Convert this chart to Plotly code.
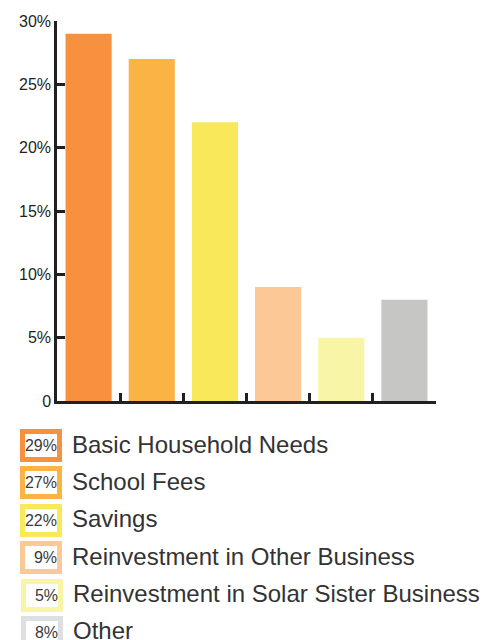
import plotly.graph_objects as go

categories = ["Basic Household Needs", "School Fees", "Savings",
              "Reinvestment in Other Business",
              "Reinvestment in Solar Sister Business", "Other"]
values = [29, 27, 22, 9, 5, 8]
pct_labels = ["29%", "27%", "22%", "9%", "5%", "8%"]
bar_colors = ["#F7913D", "#FBB343", "#F8E85A", "#FCC896", "#F8F5A6", "#C6C6C5"]
legend_colors = ["#F7913D", "#FBB343", "#F8E85A", "#FCC896", "#F8F5A6", "#DEDFE0"]
y_tickvals = [0, 5, 10, 15, 20, 25, 30]
y_ticktext = ["0", "5%", "10%", "15%", "20%", "25%", "30%"]

OFF = 8  # page body margin
W, H = 492 - OFF, 640 - OFF
L, R, T, B = 49, 56, 13, 239
pw, ph = W - L - R, H - T - B

def px_x(px):
    return (px - OFF - L) / pw

def px_y(py):
    return (H - B - (py - OFF)) / ph

fig = go.Figure(go.Bar(
    x=categories, y=values, marker=dict(color=bar_colors, line=dict(width=0)),
    showlegend=False, hoverinfo="x+y"))

annotations = []
row0, step = 445.5, 37.4
for i, (lab, pct, col) in enumerate(zip(categories, pct_labels, legend_colors)):
    cy = row0 + i * step
    annotations.append(dict(
        x=px_x(40.5 + (1 if i >= 4 else 0)), y=px_y(cy), xref="paper", yref="paper",
        xanchor="center", yanchor="middle", showarrow=False,
        text=pct, align="right", width=32, height=23,
        borderwidth=5, borderpad=0, bordercolor=col, bgcolor="white",
        font=dict(family="Liberation Sans", size=16, color="#3a3a3a")))
    annotations.append(dict(
        x=px_x(70 + (1 if i >= 4 else 0)), y=px_y(cy - 1.5 - (1 if i == 5 else 0)),
        xref="paper", yref="paper",
        xanchor="left", yanchor="middle", showarrow=False,
        text=lab, font=dict(family="Liberation Sans", size=24, color="#333333")))

fig.update_layout(
    width=W, height=H, margin=dict(l=L, r=R, t=T, b=B, autoexpand=False),
    paper_bgcolor="white", plot_bgcolor="white", bargap=0.27,
    annotations=annotations,
    xaxis=dict(showticklabels=False, showgrid=False, zeroline=False,
               automargin=False,
               showline=True, linecolor="#231F20", linewidth=2.5,
               ticks="inside", tickson="boundaries", ticklen=8, tickwidth=2.5,
               tickcolor="#231F20", fixedrange=True),
    yaxis=dict(range=[0, 30], tickvals=y_tickvals, ticktext=y_ticktext,
               automargin=False,
               showgrid=False, zeroline=False, showline=True,
               linecolor="#231F20", linewidth=2.5, ticks="inside", ticklen=8,
               tickwidth=2.5, tickcolor="#231F20",
               tickfont=dict(family="Liberation Sans", size=16, color="#231F20"),
               fixedrange=True),
)

fig.write_html("out.html")
